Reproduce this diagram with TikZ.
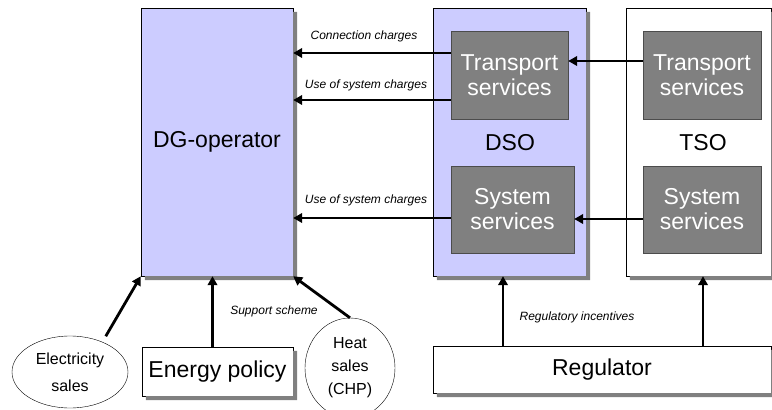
\documentclass[tikz,border=0pt]{standalone}
\usepackage{fontspec}
\setmainfont{Liberation Sans}
\usepackage{tikz}
\usetikzlibrary{arrows.meta,shapes.geometric}
\definecolor{lavender}{RGB}{204,204,255}
\definecolor{boxgray}{RGB}{128,128,128}

\tikzset{
  actor/.style={draw,rectangle,fill=lavender,font=\fontsize{23}{26}\selectfont},
  service/.style={draw=black!70,rectangle,fill=boxgray,text=white,align=center,font=\fontsize{23}{25}\selectfont},
  plain/.style={draw,rectangle,fill=white,font=\fontsize{23}{26}\selectfont},
  party/.style={draw,ellipse,fill=white,align=center,inner sep=0pt},
  tag/.style={font=\fontsize{12}{14}\selectfont\itshape},
  arr/.style={-{Triangle[length=9pt,width=9.5pt]},line width=2.8pt}
}
% gray strip along the right and lower side of a named box
\newcommand{\boxshadow}[1]{%
  \fill[boxgray] ([yshift=-4pt]#1.north east) -- ([xshift=4pt,yshift=-4pt]#1.north east)
    -- ([xshift=4pt,yshift=-4pt]#1.south east) -- ([xshift=4pt,yshift=-4pt]#1.south west)
    -- ([xshift=4pt]#1.south west) -- (#1.south east) -- cycle;}

\begin{document}
\begin{tikzpicture}[x=1pt,y=-1pt]
				\useasboundingbox (0,0) rectangle (772,410);
				\node[actor,minimum width=152,minimum height=268] (dg) at (217,142) {DG-operator};
				\node[actor,minimum width=153,minimum height=268] (dso) at (509.5,142) {};
				\node[plain,minimum width=145,minimum height=268] (tso) at (698.5,142) {};
				\node[font=\fontsize{23}{26}\selectfont] (dsolbl) at (510,143) {DSO};
				\node[font=\fontsize{23}{26}\selectfont] (tsolbl) at (703,143) {TSO};
				\node[service,minimum width=117,minimum height=88] (dsotr) at (509.5,75) {Transport\\services};
				\node[service,minimum width=118,minimum height=88] (tsotr) at (702,75) {Transport\\services};
				\node[service,minimum width=123,minimum height=87] (dsosys) at (512.5,209.5) {System\\services};
				\node[service,minimum width=118,minimum height=87] (tsosys) at (702,209.5) {System\\services};
				\node[party,minimum width=116,minimum height=72,font=\fontsize{16}{27}\selectfont] (elec) at (70,372) {Electricity\\sales};
				\node[plain,minimum width=151,minimum height=49] (policy) at (217.5,371.5) {Energy policy};
				\node[party,minimum width=90,minimum height=100,font=\fontsize{16}{23}\selectfont] (heat) at (350,368) {Heat\\sales\\(CHP)};
				\node[plain,minimum width=338,minimum height=47] (reg) at (602,369.5) {Regulator};
				\boxshadow{dg}
				\boxshadow{dso}
				\boxshadow{tso}
				\boxshadow{policy}
				\boxshadow{reg}
				% charges towards the DG-operator
				\draw[arr] ([yshift=22pt]dsotr.west) -- ([yshift=22pt]dsotr.west -| dg.east);
				\draw[arr] ([yshift=-25pt]dsotr.west) -- ([yshift=-25pt]dsotr.west -| dg.east);
				\draw[arr] ([yshift=-8.5pt]dsosys.west) -- ([yshift=-8.5pt]dsosys.west -| dg.east);
				\node[tag] (conn) at (364,36) {Connection charges};
				\node[tag] (uos1) at (366,85) {Use of system charges};
				\node[tag] (uos2) at (366,200) {Use of system charges};
				% TSO to DSO
				\draw[arr] ([yshift=14pt]tsotr.west) -- ([yshift=14pt]tsotr.west -| dsotr.east);
				\draw[arr] ([yshift=-9.5pt]tsosys.west) -- ([yshift=-9.5pt]tsosys.west -| dsosys.east);
				% inputs to the DG-operator
				\draw[arr] ([xshift=5pt,yshift=5pt]elec.45) -- (dg.south west);
				\draw[arr] ([xshift=-5pt]policy.north) -- ([xshift=-5pt]policy.north |- dg.south);
				\draw[arr] (heat.north) -- (dg.south east);
				\node[tag] (support) at (274,311) {Support scheme};
				% regulator
				\draw[arr] (reg.north -| 503,0) -- (dso.south -| 503,0);
				\draw[arr] (reg.north -| 703,0) -- (tso.south -| 703,0);
				\node[tag] (incent) at (577,317) {Regulatory incentives};
			\end{tikzpicture}
\end{document}
